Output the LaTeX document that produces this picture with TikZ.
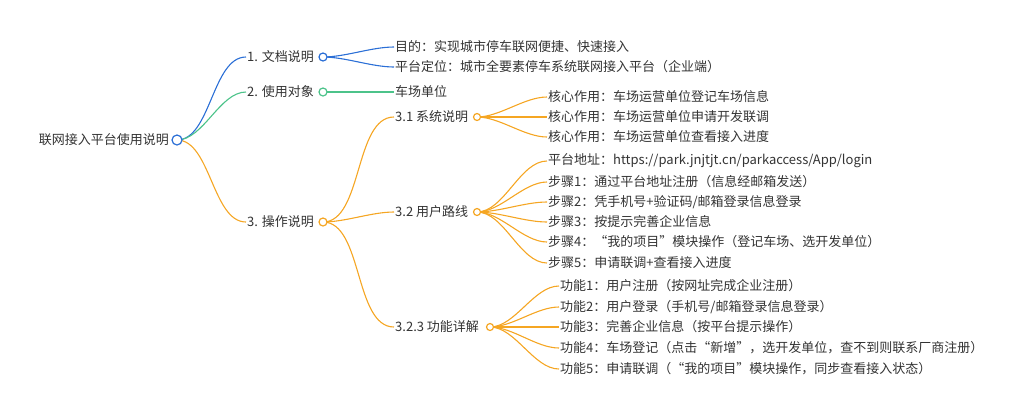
\documentclass[tikz,border=0pt]{standalone}
\usepackage{fontspec}
\setmainfont{Noto Sans CJK SC}
\definecolor{cb}{HTML}{2B6FD6}
\definecolor{cg}{HTML}{4CC38A}
\definecolor{co}{HTML}{F5A623}
\begin{document}
\begin{tikzpicture}[x=1pt,y=-1pt,
  txt/.style={anchor=west,inner sep=1pt,font=\fontsize{13}{15}\selectfont,text=black!80},
  dot/.style={circle,draw=#1,line width=1.2pt,fill=white,minimum size=8pt,inner sep=0pt},
  ln/.style={draw=#1,line width=1.1pt},
  lk/.style={out=0,in=180,looseness=0.8}]
\useasboundingbox (0,0) rectangle (1024,416);
\node[txt,anchor=east] (r) at (170,140) {联网接入平台使用说明};
\node[txt] (a) at (246,57) {1. 文档说明};
\node[txt] (b) at (246,92) {2. 使用对象};
\node[txt] (c) at (246,222) {3. 操作说明};
\node[txt] (a1) at (394,47) {目的：实现城市停车联网便捷、快速接入};
\node[txt] (a2) at (394,67) {平台定位：城市全要素停车系统联网接入平台（企业端）};
\node[txt] (b1) at (394,92) {车场单位};
\node[txt] (c1) at (394,117) {3.1 系统说明};
\node[txt] (c2) at (394,212) {3.2 用户路线};
\node[txt] (c3) at (394,327) {3.2.3 功能详解};
\coordinate (rc) at (177,140); \coordinate (ac) at (323,57); \coordinate (bc) at (323,92); \coordinate (cc) at (323,222);
\coordinate (c1c) at (477,117); \coordinate (c2c) at (477,212); \coordinate (c3c) at (490,327);
\foreach \n/\y/\t in {d1/97/{核心作用：车场运营单位登记车场信息},d2/117/{核心作用：车场运营单位申请开发联调},d3/137/{核心作用：车场运营单位查看接入进度}}
  {\node[txt] (\n) at (547,\y) {\t}; \draw[ln=co] (c1c) to[lk] (\n.west);}
\foreach \n/\y/\t in {e1/161/{平台地址：https://park.jnjtjt.cn/parkaccess/App/login},e2/182/{步骤1：通过平台地址注册（信息经邮箱发送）},e3/202/{步骤2：凭手机号+验证码/邮箱登录信息登录},e4/222/{步骤3：按提示完善企业信息},e5/242/{步骤4：“我的项目”模块操作（登记车场、选开发单位）},e6/263/{步骤5：申请联调+查看接入进度}}
  {\node[txt] (\n) at (547,\y) {\t}; \draw[ln=co] (c2c) to[lk] (\n.west);}
\foreach \n/\y/\t in {f1/286/{功能1：用户注册（按网址完成企业注册）},f2/307/{功能2：用户登录（手机号/邮箱登录信息登录）},f3/327/{功能3：完善企业信息（按平台提示操作）},f4/348/{功能4：车场登记（点击“新增”，选开发单位，查不到则联系厂商注册）},f5/369/{功能5：申请联调（“我的项目”模块操作，同步查看接入状态）}}
  {\node[txt] (\n) at (559,\y) {\t}; \draw[ln=co] (c3c) to[lk] (\n.west);}
\draw[ln=cb] (rc) to[lk] (a.west);
\draw[ln=cg] (rc) to[lk] (b.west);
\draw[ln=co] (rc) to[lk] (c.west);
\draw[ln=cb] (ac) to[lk] (a1.west);
\draw[ln=cb] (ac) to[lk] (a2.west);
\draw[ln=cg] (bc) -- (b1.west);
\draw[ln=co] (cc) to[lk] (c1.west);
\draw[ln=co] (cc) to[lk] (c2.west);
\draw[ln=co] (cc) to[lk] (c3.west);
\node[dot=cb,minimum size=10pt] (rcd) at (rc) {};
\node[dot=cb] (acd) at (ac) {}; \node[dot=cg] (bcd) at (bc) {}; \node[dot=co] (ccd) at (cc) {};
\node[dot=co,minimum size=7pt] (c1d) at (c1c) {}; \node[dot=co,minimum size=7pt] (c2d) at (c2c) {}; \node[dot=co,minimum size=7pt] (c3d) at (c3c) {};
\end{tikzpicture}
\end{document}
